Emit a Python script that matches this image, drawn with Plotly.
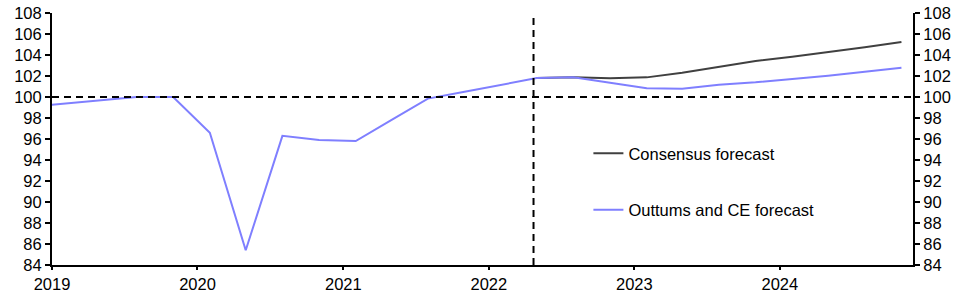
import plotly.graph_objects as go

# Quarterly data (plotted at the start of each quarter's middle month)
ce_dates = ["2018-11-01", "2019-02-01", "2019-05-01", "2019-08-01", "2019-11-01",
            "2020-02-01", "2020-05-01", "2020-08-01", "2020-11-01",
            "2021-02-01", "2021-05-01", "2021-08-01", "2021-11-01",
            "2022-02-01", "2022-05-01", "2022-08-01", "2022-11-01",
            "2023-02-01", "2023-05-01", "2023-08-01", "2023-11-01",
            "2024-02-01", "2024-05-01", "2024-08-01", "2024-11-01"]
ce_values = [99.05, 99.35, 99.65, 100.0, 100.0,
             96.6, 85.4, 96.3, 95.9,
             95.8, 97.8, 99.85, 100.5,
             101.15, 101.8, 101.87, 101.37,
             100.83, 100.79, 101.17, 101.4,
             101.71, 102.03, 102.41, 102.79]

cons_dates = ["2022-05-01", "2022-08-01", "2022-11-01",
              "2023-02-01", "2023-05-01", "2023-08-01", "2023-11-01",
              "2024-02-01", "2024-05-01", "2024-08-01", "2024-11-01"]
cons_values = [101.8, 101.87, 101.78,
               101.87, 102.3, 102.9, 103.43,
               103.84, 104.25, 104.73, 105.24]

forecast_start = "2022-04-23"
x_range = ["2019-01-01", "2024-11-30"]
y_range = [84, 108]
y_ticks = list(range(84, 110, 2))

FONT = "Liberation Sans, Arial, sans-serif"
FS = 16.5

fig = go.Figure()
fig.add_trace(go.Scatter(x=cons_dates, y=cons_values, mode="lines",
                         name="Consensus forecast", legendgroup="a",
                         line=dict(color="#404040", width=2)))
fig.add_trace(go.Scatter(x=ce_dates, y=ce_values, mode="lines",
                         name="Outtums and CE forecast", legendgroup="b",
                         line=dict(color="#7f7fff", width=2)))
# invisible trace to anchor right axis
fig.add_trace(go.Scatter(x=[x_range[0]], y=[100], yaxis="y2", mode="lines",
                         showlegend=False, hoverinfo="skip",
                         line=dict(color="rgba(0,0,0,0)")))

fig.add_shape(type="line", xref="paper", x0=0, x1=1, yref="y", y0=100, y1=100,
              line=dict(color="black", width=2, dash="7px,5px"))
fig.add_shape(type="line", xref="x", x0=forecast_start, x1=forecast_start,
              yref="paper", y0=0, y1=0.99,
              line=dict(color="black", width=2, dash="7px,5px"))

axis_common = dict(showgrid=False, zeroline=False, showline=True,
                   linecolor="black", linewidth=2, ticks="outside",
                   tickcolor="black", tickwidth=2,
                   automargin=False,
                   tickfont=dict(family=FONT, size=FS, color="black"))

fig.update_layout(
    width=966, height=294,
    margin=dict(l=52, r=53, t=13, b=29),
    plot_bgcolor="white", paper_bgcolor="white",
    font=dict(family=FONT, size=FS, color="black"),
    xaxis=dict(range=x_range, type="date", dtick="M12", tick0="2019-01-01",
               tickformat="%Y", ticklen=3, **axis_common),
    yaxis=dict(range=y_range, tickvals=y_ticks, ticklen=5, **axis_common),
    yaxis2=dict(range=y_range, tickvals=y_ticks, overlaying="y", side="right",
                ticklen=5, **axis_common),
    legend=dict(x=0.623, y=0.512, xanchor="left", yanchor="top",
                bgcolor="rgba(0,0,0,0)", borderwidth=0,
                traceorder="grouped", tracegroupgap=32,
                font=dict(family=FONT, size=FS, color="black")),
    showlegend=True,
)

fig.write_html("out.html")
